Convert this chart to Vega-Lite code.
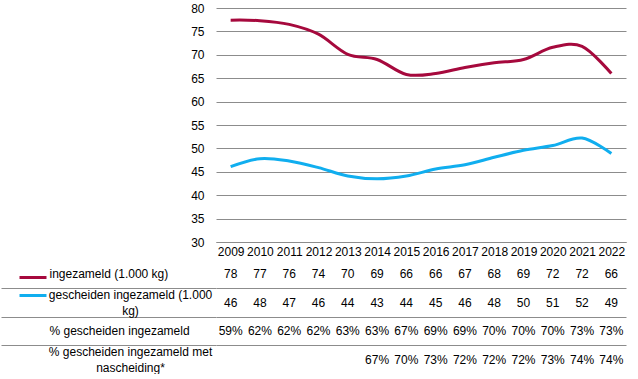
{
  "$schema": "https://vega.github.io/schema/vega-lite/v6.json",
  "padding": {"left": 0, "top": 2, "right": 5, "bottom": 0},
  "spacing": 3,
  "datasets": {
    "lines": [
      {"year": 2009, "series": "ingezameld", "value": 77.4},
      {"year": 2010, "series": "ingezameld", "value": 77.3},
      {"year": 2011, "series": "ingezameld", "value": 76.5},
      {"year": 2012, "series": "ingezameld", "value": 74.4},
      {"year": 2013, "series": "ingezameld", "value": 70.1},
      {"year": 2014, "series": "ingezameld", "value": 69.0},
      {"year": 2015, "series": "ingezameld", "value": 65.8},
      {"year": 2016, "series": "ingezameld", "value": 66.0},
      {"year": 2017, "series": "ingezameld", "value": 67.3},
      {"year": 2018, "series": "ingezameld", "value": 68.3},
      {"year": 2019, "series": "ingezameld", "value": 69.0},
      {"year": 2020, "series": "ingezameld", "value": 71.6},
      {"year": 2021, "series": "ingezameld", "value": 71.8},
      {"year": 2022, "series": "ingezameld", "value": 66.0},
      {"year": 2009, "series": "gescheiden ingezameld", "value": 46.1},
      {"year": 2010, "series": "gescheiden ingezameld", "value": 47.8},
      {"year": 2011, "series": "gescheiden ingezameld", "value": 47.3},
      {"year": 2012, "series": "gescheiden ingezameld", "value": 45.9},
      {"year": 2013, "series": "gescheiden ingezameld", "value": 44.1},
      {"year": 2014, "series": "gescheiden ingezameld", "value": 43.5},
      {"year": 2015, "series": "gescheiden ingezameld", "value": 44.1},
      {"year": 2016, "series": "gescheiden ingezameld", "value": 45.6},
      {"year": 2017, "series": "gescheiden ingezameld", "value": 46.5},
      {"year": 2018, "series": "gescheiden ingezameld", "value": 48.1},
      {"year": 2019, "series": "gescheiden ingezameld", "value": 49.6},
      {"year": 2020, "series": "gescheiden ingezameld", "value": 50.6},
      {"year": 2021, "series": "gescheiden ingezameld", "value": 52.2},
      {"year": 2022, "series": "gescheiden ingezameld", "value": 48.9}
    ],
    "table": [
      {"year": 2009, "row": "ingezameld (1.000 kg)", "t": "78"},
      {"year": 2010, "row": "ingezameld (1.000 kg)", "t": "77"},
      {"year": 2011, "row": "ingezameld (1.000 kg)", "t": "76"},
      {"year": 2012, "row": "ingezameld (1.000 kg)", "t": "74"},
      {"year": 2013, "row": "ingezameld (1.000 kg)", "t": "70"},
      {"year": 2014, "row": "ingezameld (1.000 kg)", "t": "69"},
      {"year": 2015, "row": "ingezameld (1.000 kg)", "t": "66"},
      {"year": 2016, "row": "ingezameld (1.000 kg)", "t": "66"},
      {"year": 2017, "row": "ingezameld (1.000 kg)", "t": "67"},
      {"year": 2018, "row": "ingezameld (1.000 kg)", "t": "68"},
      {"year": 2019, "row": "ingezameld (1.000 kg)", "t": "69"},
      {"year": 2020, "row": "ingezameld (1.000 kg)", "t": "72"},
      {"year": 2021, "row": "ingezameld (1.000 kg)", "t": "72"},
      {"year": 2022, "row": "ingezameld (1.000 kg)", "t": "66"},
      {"year": 2009, "row": "gescheiden ingezameld (1.000 kg)", "t": "46"},
      {"year": 2010, "row": "gescheiden ingezameld (1.000 kg)", "t": "48"},
      {"year": 2011, "row": "gescheiden ingezameld (1.000 kg)", "t": "47"},
      {"year": 2012, "row": "gescheiden ingezameld (1.000 kg)", "t": "46"},
      {"year": 2013, "row": "gescheiden ingezameld (1.000 kg)", "t": "44"},
      {"year": 2014, "row": "gescheiden ingezameld (1.000 kg)", "t": "43"},
      {"year": 2015, "row": "gescheiden ingezameld (1.000 kg)", "t": "44"},
      {"year": 2016, "row": "gescheiden ingezameld (1.000 kg)", "t": "45"},
      {"year": 2017, "row": "gescheiden ingezameld (1.000 kg)", "t": "46"},
      {"year": 2018, "row": "gescheiden ingezameld (1.000 kg)", "t": "48"},
      {"year": 2019, "row": "gescheiden ingezameld (1.000 kg)", "t": "50"},
      {"year": 2020, "row": "gescheiden ingezameld (1.000 kg)", "t": "51"},
      {"year": 2021, "row": "gescheiden ingezameld (1.000 kg)", "t": "52"},
      {"year": 2022, "row": "gescheiden ingezameld (1.000 kg)", "t": "49"},
      {"year": 2009, "row": "% gescheiden ingezameld", "t": "59%"},
      {"year": 2010, "row": "% gescheiden ingezameld", "t": "62%"},
      {"year": 2011, "row": "% gescheiden ingezameld", "t": "62%"},
      {"year": 2012, "row": "% gescheiden ingezameld", "t": "62%"},
      {"year": 2013, "row": "% gescheiden ingezameld", "t": "63%"},
      {"year": 2014, "row": "% gescheiden ingezameld", "t": "63%"},
      {"year": 2015, "row": "% gescheiden ingezameld", "t": "67%"},
      {"year": 2016, "row": "% gescheiden ingezameld", "t": "69%"},
      {"year": 2017, "row": "% gescheiden ingezameld", "t": "69%"},
      {"year": 2018, "row": "% gescheiden ingezameld", "t": "70%"},
      {"year": 2019, "row": "% gescheiden ingezameld", "t": "70%"},
      {"year": 2020, "row": "% gescheiden ingezameld", "t": "70%"},
      {"year": 2021, "row": "% gescheiden ingezameld", "t": "73%"},
      {"year": 2022, "row": "% gescheiden ingezameld", "t": "73%"},
      {"year": 2014, "row": "% gescheiden ingezameld met nascheiding*", "t": "67%"},
      {"year": 2015, "row": "% gescheiden ingezameld met nascheiding*", "t": "70%"},
      {"year": 2016, "row": "% gescheiden ingezameld met nascheiding*", "t": "73%"},
      {"year": 2017, "row": "% gescheiden ingezameld met nascheiding*", "t": "72%"},
      {"year": 2018, "row": "% gescheiden ingezameld met nascheiding*", "t": "72%"},
      {"year": 2019, "row": "% gescheiden ingezameld met nascheiding*", "t": "72%"},
      {"year": 2020, "row": "% gescheiden ingezameld met nascheiding*", "t": "73%"},
      {"year": 2021, "row": "% gescheiden ingezameld met nascheiding*", "t": "74%"},
      {"year": 2022, "row": "% gescheiden ingezameld met nascheiding*", "t": "74%"}
    ]
  },
  "vconcat": [
    {
      "width": 410,
      "height": 234,
      "data": {"name": "lines"},
      "mark": {"type": "line", "interpolate": "cardinal", "strokeWidth": 3},
      "encoding": {
        "x": {
          "field": "year", "type": "ordinal",
          "scale": {"type": "point", "padding": 0.5},
          "axis": {"title": null, "labelAngle": 0, "ticks": false, "domainColor": "#8c8c8c", "labelPadding": 4, "grid": false}
        },
        "y": {
          "field": "value", "type": "quantitative",
          "scale": {"domain": [30, 80], "nice": false, "zero": false},
          "axis": {"title": null, "values": [30, 35, 40, 45, 50, 55, 60, 65, 70, 75, 80], "domain": false, "ticks": false, "labelPadding": 12, "gridColor": "#8c8c8c", "gridWidth": 1}
        },
        "color": {
          "field": "series", "type": "nominal",
          "scale": {"domain": ["ingezameld", "gescheiden ingezameld"], "range": ["#A6093D", "#10AEEF"]},
          "legend": null
        }
      }
    },
    {
      "width": 410,
      "height": 114,
      "data": {"name": "table"},
      "layer": [
        {
          "mark": {"type": "text", "fontSize": 12, "color": "#000"},
          "encoding": {
            "x": {"field": "year", "type": "ordinal", "scale": {"type": "band", "paddingInner": 0, "paddingOuter": 0}, "axis": null},
            "y": {
              "field": "row", "type": "nominal",
              "sort": ["ingezameld (1.000 kg)", "gescheiden ingezameld (1.000 kg)", "% gescheiden ingezameld", "% gescheiden ingezameld met nascheiding*"],
              "scale": {"type": "band", "paddingInner": 0, "paddingOuter": 0},
              "axis": {
                "orient": "left", "title": null, "domain": false,
                "ticks": true, "tickSize": 215, "tickColor": "#8c8c8c", "bandPosition": 0,
                "tickOpacity": {"condition": {"test": "datum.value === 'ingezameld (1.000 kg)'", "value": 0}, "value": 1},
                "grid": true, "gridColor": "#8c8c8c",
                "gridOpacity": {"condition": {"test": "datum.value === 'ingezameld (1.000 kg)'", "value": 0}, "value": 1},
                "labelExpr": "datum.value === 'gescheiden ingezameld (1.000 kg)' ? ['gescheiden ingezameld (1.000', 'kg)'] : datum.value === '% gescheiden ingezameld met nascheiding*' ? ['% gescheiden ingezameld met', 'nascheiding*'] : datum.value",
                "labelAlign": {"condition": {"test": "datum.value === 'gescheiden ingezameld (1.000 kg)' || datum.value === '% gescheiden ingezameld met nascheiding*'", "value": "center"}, "value": "left"},
                "labelPadding": {"condition": {"test": "datum.value === 'gescheiden ingezameld (1.000 kg)' || datum.value === '% gescheiden ingezameld met nascheiding*'", "value": -129}, "value": -48},
                "labelOffset": {"condition": {"test": "datum.value === 'gescheiden ingezameld (1.000 kg)' || datum.value === '% gescheiden ingezameld met nascheiding*'", "value": -8}, "value": 0},
                "labelBaseline": "middle",
                "labelLineHeight": 16,
                "labelLimit": 300
              }
            },
            "text": {"field": "t"}
          }
        },
        {
          "mark": {"type": "text", "opacity": 0},
          "encoding": {
            "y": {
              "field": "row", "type": "nominal",
              "sort": ["ingezameld (1.000 kg)", "gescheiden ingezameld (1.000 kg)", "% gescheiden ingezameld", "% gescheiden ingezameld met nascheiding*"],
              "axis": {
                "orient": "left", "title": null, "offset": 170, "domain": false, "labels": false, "grid": false,
                "ticks": true, "tickSize": 27, "tickWidth": 3, "tickOffset": 2.5,
                "values": ["ingezameld (1.000 kg)"],
                "tickColor": "#A6093D"
              }
            },
            "text": {"field": "t"}
          }
        },
        {
          "mark": {"type": "text", "opacity": 0},
          "encoding": {
            "y": {
              "field": "row", "type": "nominal",
              "sort": ["ingezameld (1.000 kg)", "gescheiden ingezameld (1.000 kg)", "% gescheiden ingezameld", "% gescheiden ingezameld met nascheiding*"],
              "axis": {
                "orient": "left", "title": null, "offset": 170, "domain": false, "labels": false, "grid": false,
                "ticks": true, "tickSize": 27, "tickWidth": 3, "tickOffset": -8,
                "values": ["gescheiden ingezameld (1.000 kg)"],
                "tickColor": "#10AEEF"
              }
            },
            "text": {"field": "t"}
          }
        }
      ],
      "resolve": {"axis": {"y": "independent"}}
    }
  ],
  "config": {
    "font": "Liberation Sans",
    "view": {"stroke": null},
    "axis": {"labelFont": "Liberation Sans", "labelFontSize": 12, "labelColor": "#000"},
    "text": {"font": "Liberation Sans"}
  }
}
